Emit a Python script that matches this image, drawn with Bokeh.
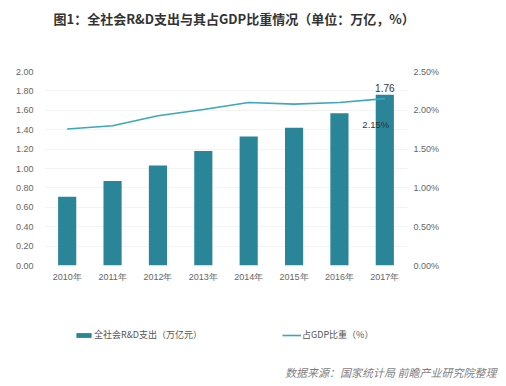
from bokeh.plotting import figure
from bokeh.layouts import column
from bokeh.models import (Range1d, LinearAxis, FixedTicker, PrintfTickFormatter,
                          Label, Legend, LegendItem)
from bokeh.embed import file_html
from bokeh.resources import INLINE

# ---- data ----
years = ["2010年", "2011年", "2012年", "2013年", "2014年", "2015年", "2016年", "2017年"]
rd_spend = [0.71, 0.87, 1.03, 1.18, 1.33, 1.42, 1.57, 1.76]      # 万亿元
gdp_share = [1.76, 1.80, 1.93, 2.01, 2.10, 2.08, 2.10, 2.15]     # %
left_ticks = [0.0, 0.2, 0.4, 0.6, 0.8, 1.0, 1.2, 1.4, 1.6, 1.8, 2.0]
right_ticks = [0.0, 0.5, 1.0, 1.5, 2.0, 2.5]
title_text = "图1：全社会R&D支出与其占GDP比重情况（单位：万亿，%）"
source_text = "数据来源：国家统计局 前瞻产业研究院整理"
bar_name = "全社会R&D支出（万亿元）"
line_name = "占GDP比重（%）"

BAR = "#2a8598"
LINE = "#3aa8bb"
TICK = "#666666"
NUM_FONT = "Liberation Sans"
CJK_FONT = "Noto Sans CJK SC"
W = 500
NAN = float("nan")


def blank_fig(h):
    f = figure(width=W, height=h, output_backend="svg", toolbar_location=None,
               x_range=Range1d(0, W), y_range=Range1d(h, 0),
               x_axis_location=None, y_axis_location=None,
               min_border=0, title=None, frame_align=False)
    f.grid.visible = False
    f.outline_line_color = None
    f.background_fill_color = "white"
    f.border_fill_color = "white"
    return f


# ---- header (title) ----
HEAD_H = 36
head = blank_fig(HEAD_H)
head.add_layout(Label(x=53, y=18, text=title_text, text_align="left",
                      text_baseline="middle", text_font=CJK_FONT,
                      text_font_size="13px", text_font_style="bold",
                      text_color="#333333"))

# ---- main chart ----
xs = list(range(len(years)))
p = figure(width=W, height=254, output_backend="svg", toolbar_location=None,
           x_range=Range1d(-0.5, len(years) - 0.5),
           y_range=Range1d(left_ticks[0], left_ticks[-1]),
           min_border_left=44, min_border_right=93,
           min_border_top=35, min_border_bottom=25, frame_align=False)
p.extra_y_ranges = {"pct": Range1d(right_ticks[0], right_ticks[-1])}
p.outline_line_color = None
p.background_fill_color = "white"
p.border_fill_color = "white"

p.xaxis.ticker = FixedTicker(ticks=xs)
p.xaxis.major_label_overrides = {i: y for i, y in enumerate(years)}
p.yaxis.ticker = FixedTicker(ticks=left_ticks)
p.yaxis.formatter = PrintfTickFormatter(format="%.2f")
right = LinearAxis(y_range_name="pct", ticker=FixedTicker(ticks=right_ticks),
                   formatter=PrintfTickFormatter(format="%.2f%%"))
p.add_layout(right, "right")

for ax in [p.xaxis[0], p.yaxis[0], right]:
    ax.axis_line_color = None
    ax.major_tick_line_color = None
    ax.minor_tick_line_color = None
    ax.major_tick_out = 0
    ax.minor_tick_out = 0
    ax.major_label_text_font_size = "9px"
    ax.major_label_text_color = TICK
    ax.major_label_text_font = NUM_FONT
p.xaxis.major_label_standoff = 6
p.yaxis.major_label_standoff = 11
right.major_label_standoff = 6

p.xgrid.grid_line_color = None
p.ygrid.grid_line_color = "#f3f3f3"
p.ygrid.ticker = FixedTicker(ticks=left_ticks)

p.vbar(x=xs, top=rd_spend, width=0.4, fill_color=BAR, line_color=None)
p.line(x=xs, y=gdp_share, y_range_name="pct", line_color=LINE, line_width=1.6)

p.add_layout(Label(x=xs[-1], y=rd_spend[-1], text=f"{rd_spend[-1]:.2f}",
                   text_align="center", text_baseline="bottom", y_offset=3,
                   text_font=NUM_FONT, text_font_size="10px", text_color="#333333"))
p.add_layout(Label(x=xs[-1], y=gdp_share[-1], y_range_name="pct",
                   text=f"{gdp_share[-1]:.2f}%", text_align="center",
                   text_baseline="middle", x_offset=-9, y_offset=-26,
                   text_font=NUM_FONT, text_font_size="9.5px", text_color="#333333"))

# ---- footer (legend + source) ----
FOOT_H = 90
foot = blank_fig(FOOT_H)
# legend proxies (style only, NaN data so nothing is drawn in the footer)
lb = foot.vbar(x=[NAN], top=[NAN], width=0.4, fill_color=BAR, line_color=None)
ll = foot.line(x=[NAN, NAN], y=[NAN, NAN], line_color=LINE, line_width=1.6)
leg = Legend(items=[LegendItem(label=bar_name, renderers=[lb]),
                    LegendItem(label=line_name, renderers=[ll])],
             location=(74, 39), orientation="horizontal", padding=0, margin=0,
             spacing=0, border_line_color=None, background_fill_alpha=0,
             glyph_width=19, glyph_height=6, label_height=12, label_width=188,
             label_standoff=1, label_text_font=CJK_FONT,
             label_text_font_size="9px", label_text_color="#555555")
foot.add_layout(leg, "center")
foot.add_layout(Label(x=496, y=81, text=source_text, text_align="right",
                      text_baseline="middle", text_font=CJK_FONT,
                      text_font_size="11px", text_font_style="italic",
                      text_color="#7f7f7f"))

layout = column(head, p, foot, spacing=0)
open("out.html", "w").write(file_html(layout, INLINE))
